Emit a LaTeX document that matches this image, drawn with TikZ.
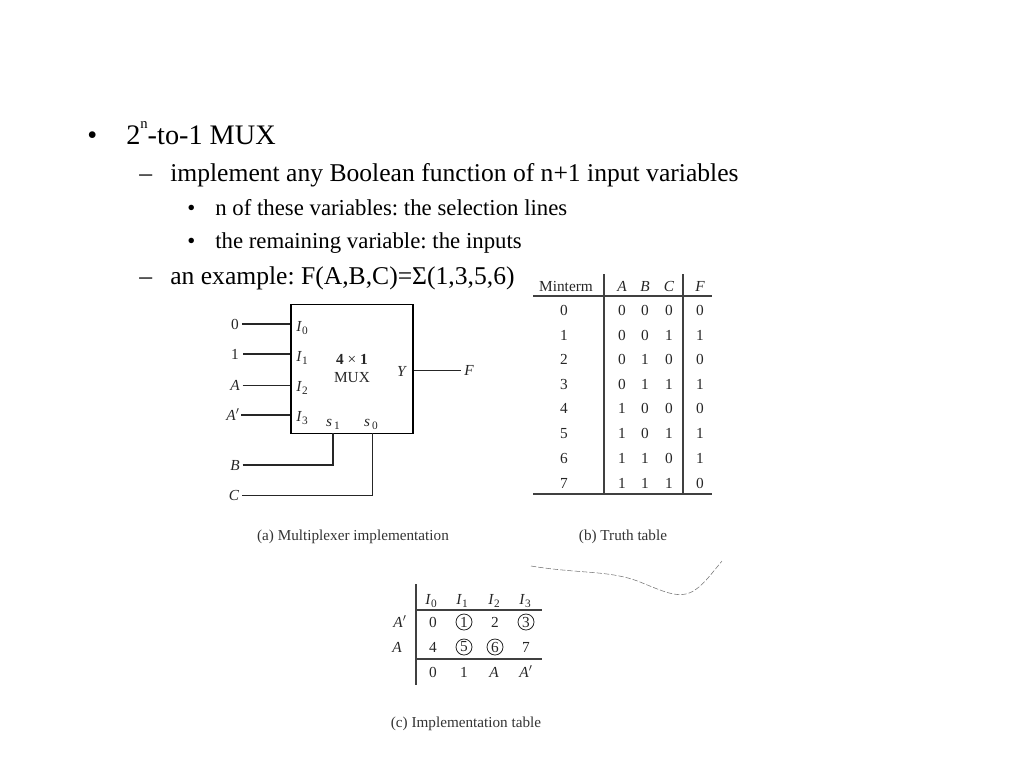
\documentclass[tikz,border=0pt]{standalone}
\usepackage{amsmath}
\usepackage{fontspec}
\setmainfont{Liberation Serif}
\frenchspacing
\newcommand{\pin}[2]{\textit{#1}\raisebox{-2.5pt}{\fontsize{8.5}{9}\selectfont #2}}
\tikzset{main/.style = {draw, rectangle, line width=1.2pt, inner sep=0pt, minimum width=91.5pt, minimum height=97pt}}
\tikzset{wire/.style = {draw, line width=0.9pt, black!85}}
\tikzset{thinwire/.style = {draw, line width=0.6pt, black!85}}
\tikzset{tabline/.style = {draw, line width=0.9pt, black!75}}
\tikzset{txtA/.style = {anchor=base west, inner sep=0pt, font=\fontsize{21.2}{24}\selectfont}}
\tikzset{txtB/.style = {anchor=base west, inner sep=0pt, font=\fontsize{19.2}{22}\selectfont}}
\tikzset{txtC/.style = {anchor=base west, inner sep=0pt, font=\fontsize{17.1}{18}\selectfont}}
\tikzset{lab/.style = {inner sep=0pt, text height=8pt, text depth=0pt, font=\fontsize{11.5}{13}\selectfont, text=black!85}}
\tikzset{captxt/.style = {inner sep=0pt, font=\fontsize{11.4}{13}\selectfont, text=black!80}}
\tikzset{ring/.style = {draw, circle, line width=0.6pt, black!85, minimum size=12pt, inner sep=0pt, font=\fontsize{11.5}{13}\selectfont}}

\begin{document}
\begin{tikzpicture}[x=0.75pt, y=-0.75pt]
\useasboundingbox (0,0) rectangle (1024,768);

% slide text
\node[txtA] (b1) at (87,144) {•};
\node[txtA] (t1) at (126,144) {2\raisebox{12pt}{\fontsize{11}{11}\selectfont n}-to-1 MUX};
\node[txtB] (b2) at (139,181) {–};
\node[txtB] (t2) at (170,181) {implement any Boolean function of n+1 input variables};
\node[txtC] (b3) at (187,215) {•};
\node[txtC] (t3) at (215,215) {n of these variables: the selection lines};
\node[txtC] (b4) at (187,248) {•};
\node[txtC] (t4) at (215,248) {the remaining variable: the inputs};
\node[txtB] (b5) at (139,284) {–};
\node[txtB] (t5) at (170,284) {an example: F(A,B,C)=Σ(1,3,5,6)};

% multiplexer
\node[main] (mux) at (352,369) {};
\node[inner sep=0pt, align=center, text=black!85, font=\fontsize{11.5}{13.5}\selectfont] (name) at (352,369) {\textbf{4} × \textbf{1}\\MUX};
\node[lab] (pi0) at (302,326) {\pin{I}{0}};
\node[lab] (pi1) at (302,356) {\pin{I}{1}};
\node[lab] (pi2) at (302,386) {\pin{I}{2}};
\node[lab] (pi3) at (302,416) {\pin{I}{3}};
\node[lab] (ps1) at (333,421) {\pin{s}{\,1}};
\node[lab] (ps0) at (371,421) {\pin{s}{\,0}};
\node[lab] (py) at (402,371) {\textit{Y}};

\node[lab] (in0) at (235,324) {0};
\node[lab] (in1) at (235,354) {1};
\node[lab] (in2) at (235,385) {\textit{A}};
\node[lab] (in3) at (233,415) {\textit{A}$'$};
\node[lab] (inb) at (235,465) {\textit{B}};
\node[lab] (inc) at (234,495) {\textit{C}};
\node[lab] (out) at (469,370) {\textit{F}};

\coordinate (sel1) at (333,433);
\coordinate (sel0) at (372,433);

\path [wire] (in0.east) ++(2pt,0) -- (in0.east -| mux.west);
\path [wire] (in1.east) ++(3pt,0) -- (in1.east -| mux.west);
\path [thinwire] (in2.east) ++(2pt,0) -- (in2.east -| mux.west);
\path [wire] (in3.east) ++(1pt,0) -- (in3.east -| mux.west);
\path [wire] (inb.east) ++(2pt,0) -| (sel1);
\path [thinwire] (inc.east) ++(2pt,0) -| (sel0);
\path [thinwire] (out.west -| mux.east) -- ([xshift=-2pt]out.west);

\node[captxt] (capa) at (353,537) {(a) Multiplexer implementation};

% truth table
\node[lab] (hm) at (566,286) {Minterm};
\node[lab] (ha) at (622,286) {\textit{A}};
\node[lab] (hb) at (645,286) {\textit{B}};
\node[lab] (hc) at (669,286) {\textit{C}};
\node[lab] (hf) at (700,286) {\textit{F}};

\node[lab] (m0) at (564,310) {0};
\node[lab] (a0) at (622,310) {0};
\node[lab] (b0) at (645,310) {0};
\node[lab] (c0) at (669,310) {0};
\node[lab] (f0) at (700,310) {0};

\node[lab] (m1) at (564,335) {1};
\node[lab] (a1) at (622,335) {0};
\node[lab] (b1r) at (645,335) {0};
\node[lab] (c1) at (669,335) {1};
\node[lab] (f1) at (700,335) {1};

\node[lab] (m2) at (564,359) {2};
\node[lab] (a2) at (622,359) {0};
\node[lab] (b2r) at (645,359) {1};
\node[lab] (c2) at (669,359) {0};
\node[lab] (f2) at (700,359) {0};

\node[lab] (m3) at (564,384) {3};
\node[lab] (a3) at (622,384) {0};
\node[lab] (b3r) at (645,384) {1};
\node[lab] (c3) at (669,384) {1};
\node[lab] (f3) at (700,384) {1};

\node[lab] (m4) at (564,408) {4};
\node[lab] (a4) at (622,408) {1};
\node[lab] (b4r) at (645,408) {0};
\node[lab] (c4) at (669,408) {0};
\node[lab] (f4) at (700,408) {0};

\node[lab] (m5) at (564,433) {5};
\node[lab] (a5) at (622,433) {1};
\node[lab] (b5r) at (645,433) {0};
\node[lab] (c5) at (669,433) {1};
\node[lab] (f5) at (700,433) {1};

\node[lab] (m6) at (564,458) {6};
\node[lab] (a6) at (622,458) {1};
\node[lab] (b6r) at (645,458) {1};
\node[lab] (c6) at (669,458) {0};
\node[lab] (f6) at (700,458) {1};

\node[lab] (m7) at (564,483) {7};
\node[lab] (a7) at (622,483) {1};
\node[lab] (b7r) at (645,483) {1};
\node[lab] (c7) at (669,483) {1};
\node[lab] (f7) at (700,483) {0};

\path [tabline] (533,296) -- (712,296);
\path [tabline] (533,494) -- (712,494);
\path [tabline] (604,274) -- (604,494);
\path [tabline] (683,274) -- (683,494);

\node[captxt] (capb) at (623,537) {(b) Truth table};

% stray curve
\path [draw, line width=0.4pt, black!55, dash pattern=on 4pt off 1.5pt] (531,566) .. controls (580,574) and (610,570) .. (640,582) .. controls (665,592) and (680,600) .. (695,590) .. controls (705,583) and (712,573) .. (722,561);

% implementation table
\node[lab] (h0) at (431,599) {\pin{I}{0}};
\node[lab] (h1) at (462,599) {\pin{I}{1}};
\node[lab] (h2) at (494,599) {\pin{I}{2}};
\node[lab] (h3) at (525,599) {\pin{I}{3}};

\node[lab] (rowa) at (400,622) {\textit{A}$'$};
\node[lab] (rowb) at (397,647) {\textit{A}};

\node[lab] (v0) at (433,622) {0};
\node[ring] (v1) at (464,622) {1};
\node[lab] (v2) at (495,622) {2};
\node[ring] (v3) at (526,622) {3};
\node[lab] (v4) at (433,647) {4};
\node[ring] (v5) at (464,647) {5};
\node[ring] (v6) at (495,647) {6};
\node[lab] (v7) at (526,647) {7};

\node[lab] (e0) at (433,672) {0};
\node[lab] (e1) at (464,672) {1};
\node[lab] (e2) at (494,672) {\textit{A}};
\node[lab] (e3) at (526,672) {\textit{A}$'$};

\path [tabline] (416,610) -- (542,610);
\path [tabline] (416,659) -- (542,659);
\path [tabline] (416,584) -- (416,685);

\node[captxt] (capc) at (466,724) {(c) Implementation table};
\end{tikzpicture}
\end{document}
